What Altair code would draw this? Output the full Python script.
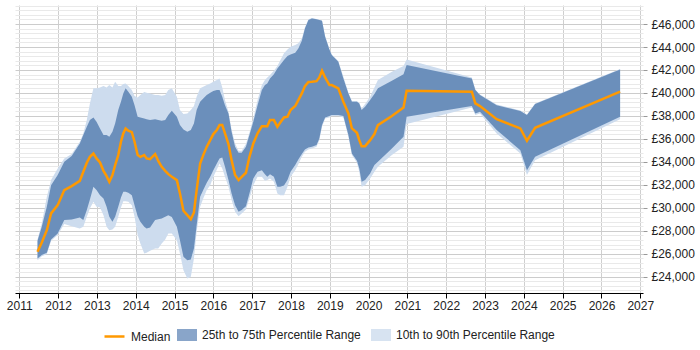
import altair as alt
import pandas as pd

# Salary percentiles over time (decimal year)
years = [2011.47, 2011.58, 2011.71, 2011.82, 2011.99, 2012.16, 2012.35, 2012.56, 2012.65, 2012.74,
         2012.82, 2012.91, 2012.99, 2013.08, 2013.17, 2013.25, 2013.32, 2013.40, 2013.47, 2013.55,
         2013.62, 2013.68, 2013.74, 2013.81, 2013.90, 2013.97, 2014.05, 2014.12, 2014.22, 2014.28,
         2014.37, 2014.50, 2014.58, 2014.67, 2014.76, 2014.84, 2014.93, 2015.06, 2015.14, 2015.23,
         2015.33, 2015.42, 2015.50, 2015.57, 2015.66, 2015.74, 2015.83, 2015.92, 2016.00, 2016.09,
         2016.16, 2016.23, 2016.30, 2016.39, 2016.47, 2016.56, 2016.65, 2016.73, 2016.84, 2016.93,
         2017.03, 2017.14, 2017.25, 2017.33, 2017.39, 2017.46, 2017.56, 2017.65, 2017.72, 2017.82,
         2017.91, 2017.99, 2018.11, 2018.19, 2018.28, 2018.36, 2018.45, 2018.54, 2018.66, 2018.73,
         2018.80, 2018.88, 2018.99, 2019.05, 2019.22, 2019.35, 2019.48, 2019.57, 2019.70, 2019.76,
         2019.82, 2019.91, 2020.04, 2020.15, 2020.24, 2020.60, 2020.90, 2020.98, 2022.66, 2022.75,
         2022.87, 2023.30, 2023.91, 2024.08, 2024.29, 2026.48]

median = [26170, 26980, 28050, 29510, 30230, 31540, 31890, 32350, 33140, 33920,
          34440, 34730, 34300, 33950, 33220, 32760, 32260, 32850, 33720, 34590,
          35750, 36480, 36910, 36710, 36590, 35750, 34590, 34440, 34590, 34300,
          34240, 34680, 34090, 33570, 33220, 32930, 32700, 32410, 31250, 29740,
          29360, 29010, 29590, 31540, 33860, 34590, 35310, 35890, 36420, 36770,
          37200, 37200, 36480, 35550, 34150, 32850, 32410, 32700, 33050, 34440,
          35600, 36480, 37110, 37110, 37110, 37640, 37640, 37060, 37400, 37870,
          37930, 38510, 38860, 39380, 39960, 40600, 40950, 40980, 41030, 41350,
          41940, 41350, 40690, 40690, 40400, 39230, 38220, 36910, 36530, 35890,
          35370, 35370, 35890, 36420, 37200, 37990, 38740, 40190, 40110, 39090,
          38860, 37720, 36910, 35840, 36970, 40110]

p10 = [25440, 25790, 25960, 27120, 27620, 28580, 28400, 28200, 28340, 29220,
       29940, 30520, 30090, 30030, 29360, 28340, 28050, 28110, 28340, 29220,
       30030, 30580, 30580, 30520, 30230, 29220, 27620, 26890, 26020, 26080,
       26250, 26460, 26460, 26890, 27240, 27760, 27760, 27180, 26020, 24570,
       23840, 23990, 25590, 27910, 30090, 30810, 31540, 31970, 32700, 33340,
       33860, 33430, 32700, 31830, 30670, 29650, 29270, 29510, 29850, 30810,
       31970, 32700, 32700, 32350, 32410, 32560, 32260, 31250, 31100, 31100,
       31830, 32700, 33280, 33800, 34440, 34880, 35080, 35170, 35310, 35890,
       37060, 37780, 37870, 37990, 37990, 37870, 36190, 34590, 33920, 33140,
       31830, 31970, 32560, 33140, 33570, 34590, 35310, 37290, 38740, 38070,
       38220, 36480, 34730, 32850, 34150, 37700]

p25 = [25590, 25880, 26080, 27240, 27760, 28930, 28980, 29160, 28930, 29800,
       30730, 31830, 31540, 31100, 30810, 30090, 29220, 28780, 29220, 30090,
       30900, 31390, 31390, 31310, 31100, 30230, 29270, 28780, 28340, 28200,
       28290, 28930, 29010, 29070, 29220, 29360, 29200, 28340, 27180, 25730,
       25440, 25500, 26460, 28490, 30960, 31540, 32180, 32700, 33280, 33860,
       34300, 34380, 33570, 32410, 31250, 30230, 29650, 29800, 30140, 31250,
       32560, 33140, 33280, 32930, 32700, 32930, 32700, 31830, 31830, 31950,
       32410, 33140, 33720, 34210, 34680, 35080, 35260, 35310, 35460, 36040,
       37200, 37870, 37990, 38070, 38070, 37990, 36330, 34730, 34090, 33430,
       32260, 32410, 32990, 33720, 34010, 35170, 36190, 37930, 38860, 38220,
       38360, 36770, 35020, 33280, 34440, 37930]

p75 = [27120, 28340, 30090, 31970, 32850, 34010, 34500, 35600, 36330, 37060,
       37640, 37870, 37490, 36910, 36330, 36330, 36190, 36620, 37350, 38510,
       39230, 39960, 40400, 40110, 39670, 38940, 37930, 37870, 37780, 37700,
       37640, 37700, 37640, 37580, 37640, 38070, 38450, 37930, 37200, 36820,
       36620, 36770, 37350, 38510, 39230, 39520, 39820, 40020, 40160, 40250,
       40250, 39670, 38940, 38220, 36620, 35310, 34790, 34790, 35310, 36330,
       37490, 38940, 40250, 40690, 40830, 41270, 41640, 42140, 42430, 42860,
       43210, 43360, 43500, 43880, 44550, 45620, 46350, 46490, 46410, 46350,
       46290, 44900, 43790, 43300, 42720, 41270, 39960, 39230, 39230, 39090,
       38510, 38800, 39380, 39900, 40400, 41060, 41640, 42430, 41270, 40250,
       39820, 38940, 38420, 38070, 39030, 42050]

p90 = [27240, 28630, 30960, 32410, 33430, 34300, 34680, 35750, 36480, 37640,
       39090, 40400, 40400, 40480, 40600, 40480, 40690, 40480, 40980, 40600,
       40600, 40770, 40830, 40600, 40250, 39730, 39610, 39820, 40080, 40020,
       39960, 39820, 39820, 39760, 39820, 40250, 40400, 39670, 38510, 38160,
       38220, 38510, 38860, 39670, 40400, 40540, 40690, 40830, 40980, 41120,
       41270, 40480, 39380, 38360, 36820, 35600, 34970, 34970, 35550, 36530,
       37780, 39380, 40690, 41120, 41350, 41560, 41940, 42340, 42810, 43450,
       43790, 44030, 44170, 44320, 44750, 45710, 46410, 46520, 46440, 46380,
       46320, 44960, 43850, 43360, 42780, 41410, 40020, 39290, 39290, 39150,
       38650, 39030, 39670, 40480, 41120, 41850, 42340, 42920, 41350, 40310,
       39870, 39000, 38480, 38130, 39090, 42080]

year_ticks = list(range(2011, 2028))
salary_ticks = list(range(22800, 47700, 400))

line_names = ["Median"]
line_colors = ["#ff9900"]
band_names = ["25th to 75th Percentile Range", "10th to 90th Percentile Range"]
band_colors = ["#6b8fbb", "#cddcee"]

df = pd.DataFrame({"year": years, "median": median, "p10": p10,
                   "p25": p25, "p75": p75, "p90": p90})

FONT = "Liberation Sans"
LEGEND_Y = 320
PLOT_W, PLOT_H = 628, 288

x_enc = alt.X(
    "year:Q",
    scale=alt.Scale(domain=[2010.89, 2027.07], nice=False, zero=False),
    axis=alt.Axis(values=year_ticks, format="d", title=None, grid=True,
                  gridColor="#cfcfcf", domainColor="#000000", tickColor="#000000",
                  tickSize=5, labelFontSize=12, labelFont=FONT, labelColor="#222222",
                  labelPadding=2, labelOverlap=False),
)

y_scale = alt.Scale(domain=[22580, 47660], nice=False, zero=False)
y_axis = alt.Axis(
    orient="right", values=salary_ticks, title=None, domain=False,
    labelExpr="datum.value % 2000 === 0 ? '£' + format(datum.value, ',') : ''",
    gridColor={"condition": {"test": "datum.value % 2000 === 0", "value": "#cccccc"},
               "value": "#e9e9e9"},
    tickOpacity={"condition": {"test": "datum.value % 2000 === 0", "value": 1},
                 "value": 0},
    tickColor="#999999", tickSize=4, labelPadding=4, labelFontSize=12,
    labelFont=FONT, labelColor="#222222", labelOverlap=False,
)

line_legend = alt.Legend(
    title=None, orient="none", legendX=88, legendY=LEGEND_Y, direction="horizontal",
    symbolType="M-1,0H1", symbolSize=400, symbolStrokeWidth=2.5,
    labelFontSize=12, labelFont=FONT, labelColor="#222222", labelOffset=5,
)

band_legend = alt.Legend(
    title=None, orient="none", legendX=162, legendY=LEGEND_Y, direction="horizontal",
    symbolType="M-1,-0.6H1V0.6H-1Z", symbolSize=400, symbolStrokeWidth=0,
    symbolOpacity=0.8, labelFontSize=12, labelFont=FONT, labelColor="#222222",
    labelOffset=5, columnPadding=10,
)

band_fill = alt.Fill("series:N", scale=alt.Scale(domain=band_names, range=band_colors),
                     legend=band_legend)

base = alt.Chart(df)

outer = base.transform_calculate(series="'10th to 90th Percentile Range'").mark_area(
    opacity=1).encode(
    x=x_enc,
    y=alt.Y("p10:Q", scale=y_scale, axis=y_axis),
    y2="p90:Q",
    fill=band_fill,
)

inner = base.transform_calculate(series="'25th to 75th Percentile Range'").mark_area(
    opacity=1).encode(
    x=x_enc,
    y=alt.Y("p25:Q", scale=y_scale, axis=y_axis),
    y2="p75:Q",
    fill=band_fill,
)

line = base.transform_calculate(series="'Median'").mark_line(strokeWidth=2.5).encode(
    x=x_enc,
    y=alt.Y("median:Q", scale=y_scale, axis=y_axis),
    stroke=alt.Stroke("series:N", scale=alt.Scale(domain=line_names, range=line_colors),
                      legend=line_legend),
)

chart = alt.layer(outer, inner, line).properties(
    width=PLOT_W, height=PLOT_H,
    autosize=alt.AutoSizeParams(type="none"),
    padding={"left": 15, "top": 5, "right": 700 - 15 - PLOT_W, "bottom": 350 - 5 - PLOT_H},
    background="white",
).configure_view(stroke=None)

chart.save("out.html", embed_options={"renderer": "svg", "actions": False})
